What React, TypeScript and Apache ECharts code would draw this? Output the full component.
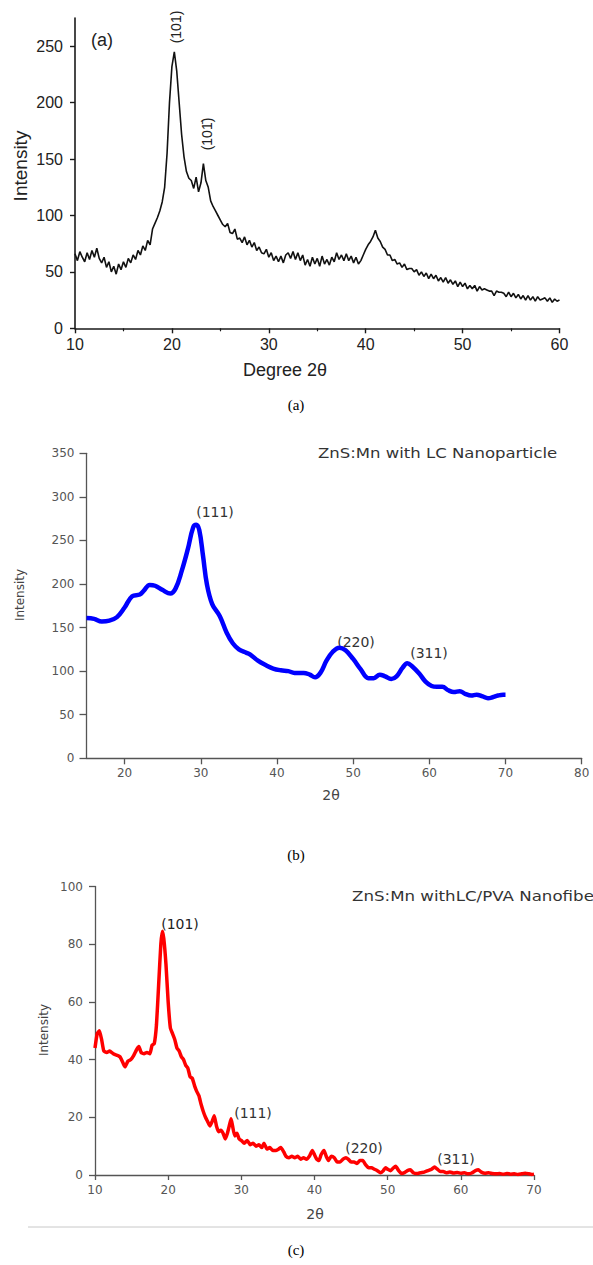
import React, { useEffect, useRef } from "react";
import * as echarts from "echarts";

// ---------- Panel (a): black noisy XRD ----------
const A_START = 10;
const A_STEP = 0.25;
const intensityA = [
  66, 60, 68, 63, 59, 67, 61, 69, 63, 71, 62, 58, 63, 54, 59, 50, 55, 48, 57, 52,
  59, 54, 62, 58, 65, 61, 69, 65, 73, 69, 78, 74, 88, 93, 98, 104, 112, 125, 155, 200,
  232, 245, 228, 200, 172, 152, 139, 133, 131, 124, 134, 121, 129, 146, 131, 125, 113, 108, 104, 100,
  96, 92, 90, 93, 85, 84, 88, 79, 80, 76, 81, 74, 78, 72, 76, 69, 72, 67, 66, 70,
  63, 67, 60, 64, 59, 64, 58, 65, 67, 62, 68, 61, 67, 60, 65, 56, 61, 55, 63, 57,
  62, 55, 64, 57, 61, 56, 63, 59, 67, 61, 65, 60, 66, 60, 64, 58, 63, 57, 60, 65,
  70, 74, 77, 81, 87, 80, 77, 72, 70, 65, 65, 60, 61, 57, 58, 54, 57, 52, 53, 53,
  50, 52, 47, 50, 46, 49, 44, 48, 44, 47, 42, 45, 41, 45, 40, 43, 39, 42, 37, 41,
  37, 40, 35, 38, 35, 38, 33, 37, 34, 35, 34, 33, 33, 29, 33, 32, 32, 31, 28, 32,
  28, 31, 27, 30, 26, 29, 25, 29, 25, 28, 24, 28, 25, 26, 27, 24, 27, 23, 26, 24,
  25,
];
const xTicksA = [10, 20, 30, 40, 50, 60];
const yTicksA = [0, 50, 100, 150, 200, 250];

// ---------- Panel (b): blue smooth ----------
const angleB = [
  15, 16, 17, 18, 19, 20, 21, 22, 22.5, 23.3, 24, 25, 26, 26.7, 27.5, 28.3, 29, 29.4, 29.8, 30.3,
  30.8, 31.5, 32.5, 33.4, 34.2, 35, 36, 36.5, 37.5, 38.5, 39.5, 40.5, 41.5, 42.3, 43.5, 44.3, 45, 45.7, 46.5, 47.3,
  48.2, 49, 50, 51, 52, 52.7, 53.5, 54.2, 55, 55.7, 56.5, 57.1, 57.8, 58.7, 59.5, 60.3, 61, 61.7, 62.5, 63.2,
  64, 64.7, 65.5, 66.2, 67, 67.7, 68.3, 69, 69.7, 70,
];
const intensityB = [
  161, 160, 157, 158, 162, 173, 186, 188, 192, 199, 198, 193, 189, 195, 215, 240, 265, 268, 262, 232,
  200, 177, 163, 144, 132, 125, 121, 119, 112, 107, 103, 101, 100, 98, 98, 96, 93, 98, 112, 122,
  127, 124, 114, 102, 92, 92, 96, 94, 91, 94, 104, 109, 105, 97, 88, 83, 82, 82, 78, 76,
  77, 74, 72, 73, 71, 69, 70, 72, 73, 73,
];
const xTicksB = [20, 30, 40, 50, 60, 70, 80];

// ---------- Panel (c): red ----------
const angleC = [
  10, 10.3, 10.6, 10.9, 11.2, 11.6, 12, 12.5, 13, 13.4, 13.8, 14.1, 14.5, 14.9, 15.3, 15.7, 16, 16.3, 16.7, 17.1,
  17.5, 17.8, 18.1, 18.4, 18.7, 19, 19.2, 19.4, 19.7, 20, 20.3, 20.6, 20.9, 21.2, 21.5, 21.8, 22.1, 22.4, 22.7, 23,
  23.3, 23.6, 23.9, 24.2, 24.5, 24.8, 25.1, 25.4, 25.7, 26, 26.3, 26.6, 26.9, 27.2, 27.5, 27.8, 28.1, 28.4, 28.6, 28.8,
  29.1, 29.4, 29.7, 30, 30.4, 30.8, 31.2, 31.6, 32, 32.4, 32.8, 33.1, 33.5, 33.9, 34.3, 34.7, 35.1, 35.4, 35.8, 36.1,
  36.5, 36.9, 37.3, 37.7, 38.1, 38.5, 38.9, 39.3, 39.7, 40, 40.3, 40.6, 40.9, 41.3, 41.6, 41.9, 42.3, 42.7, 43.1, 43.5,
  43.9, 44.3, 44.6, 45, 45.4, 45.8, 46.2, 46.6, 47, 47.4, 47.8, 48.2, 48.6, 49, 49.4, 49.7, 50, 50.4, 50.8, 51.1,
  51.5, 51.9, 52.3, 52.7, 53.1, 53.5, 54, 54.5, 55, 55.5, 56, 56.4, 56.8, 57.2, 57.6, 58, 58.5, 59, 59.5, 60,
  60.5, 61, 61.5, 62, 62.4, 62.8, 63.3, 63.8, 64.3, 64.8, 65.3, 65.8, 66.3, 66.8, 67.3, 67.8, 68.3, 68.8, 69.3, 69.7,
  70,
];
const intensityC = [
  44, 49, 50, 47, 43, 42.5, 43, 42, 41.5, 41, 39, 37.5, 39.5, 40, 41.5, 43.5, 44.5, 42.5, 42, 42.5,
  42, 45, 45.5, 52, 66, 80, 84.5, 82, 73, 60, 51, 49, 47, 44, 43, 41, 40, 38, 37, 34,
  33.5, 31, 29, 27.5, 24.5, 22, 20, 18.5, 17, 18.5, 20.5, 17, 15, 15.5, 14.5, 12.5, 14.5, 17.5, 19.5, 17,
  13.5, 14.5, 12.5, 12, 11, 12, 10.5, 11, 10, 10.5, 9.5, 11, 9, 9.5, 8.5, 8.5, 9, 9.5, 8, 6.5,
  6, 6.5, 6, 6.5, 5.5, 6, 5.5, 6.5, 8.5, 7, 5.5, 5, 7, 8.5, 6.5, 5, 6.5, 6, 4.5, 4.5,
  5.5, 6, 5.5, 4.5, 4.5, 4, 5, 5, 3.5, 2.5, 2.5, 2, 1.5, 0.8, 1.5, 2.5, 2, 1.5, 2.5, 3,
  1.5, 0.5, 0.8, 1.5, 1.8, 0.8, 0.5, 0.8, 1, 1.5, 2, 2.8, 2, 1.2, 1.2, 0.8, 1, 0.7, 0.9, 0.6,
  0.8, 0.4, 0.7, 1.5, 1.8, 1, 0.6, 0.8, 0.5, 0.4, 0.5, 0.3, 0.5, 0.3, 0.4, 0.2, 0.4, 0.6, 0.4, 0.2,
  0.3,
];

const SANS_A = "'Liberation Sans', Arial, sans-serif";
const SANS_B = "'DejaVu Sans', Verdana, sans-serif";
const SERIF = "'Liberation Serif', 'Times New Roman', serif";

function txt(
  text: string,
  x: number,
  y: number,
  size: number,
  opts: { font?: string; color?: string; align?: string; rot?: number; sx?: number } = {}
) {
  return {
    type: "text",
    x,
    y,
    rotation: opts.rot || 0,
    scaleX: opts.sx || 1,
    silent: true,
    style: {
      text,
      fill: opts.color || "#222",
      font: `${size}px ${opts.font || SANS_A}`,
      textAlign: opts.align || "center",
      textVerticalAlign: "middle",
    },
  };
}

export default function App() {
  const ref = useRef<HTMLDivElement>(null);
  useEffect(() => {
    if (!ref.current) return;
    const chart = echarts.init(ref.current, undefined, { renderer: "svg" });

    const dataA = intensityA.map((v, i) => [A_START + i * A_STEP, v]);
    const dataB = angleB.map((a, i) => [a, intensityB[i]]);
    const dataC = angleC.map((a, i) => [a, intensityC[i]]);

    const axisA = { lineStyle: { color: "#1a1a1a", width: 1.6 } };
    const axisBC = { lineStyle: { color: "#555", width: 1.3 } };

    chart.setOption({
      animation: false,
      backgroundColor: "#fff",
      grid: [
        { left: 75, top: 18.1, width: 484.5, height: 310.2 },
        { left: 86.5, top: 453.3, width: 495.2, height: 305 },
        { left: 95, top: 886.5, width: 439, height: 288.5 },
      ],
      xAxis: [
        {
          type: "value",
          gridIndex: 0,
          min: 10,
          max: 60,
          interval: 10,
          axisLine: { show: true, ...axisA },
          axisTick: { show: true, length: 5, lineStyle: { color: "#1a1a1a", width: 1.4 } },
          minorTick: { show: true, splitNumber: 2, length: 3, lineStyle: { color: "#1a1a1a", width: 1.2 } },
          axisLabel: {
            fontSize: 16,
            fontFamily: SANS_A,
            color: "#222",
            margin: 8,
            customValues: xTicksA,
          },
          splitLine: { show: false },
        },
        {
          type: "value",
          gridIndex: 1,
          min: 15,
          max: 80,
          axisLine: { show: true, ...axisBC },
          axisTick: { show: true, length: 6, customValues: xTicksB, lineStyle: { color: "#555", width: 1.3 } },
          axisLabel: {
            fontSize: 12,
            fontFamily: SANS_B,
            color: "#555",
            margin: 9,
            customValues: xTicksB,
          },
          splitLine: { show: false },
        },
        {
          type: "value",
          gridIndex: 2,
          min: 10,
          max: 70,
          interval: 10,
          axisLine: { show: true, ...axisBC },
          axisTick: { show: true, length: 5, lineStyle: { color: "#555", width: 1.3 } },
          axisLabel: { fontSize: 12, fontFamily: SANS_B, color: "#555", margin: 9 },
          splitLine: { show: false },
        },
      ],
      yAxis: [
        {
          type: "value",
          gridIndex: 0,
          min: 0,
          max: 275,
          axisLine: { show: true, ...axisA },
          axisTick: { show: true, length: 5, customValues: yTicksA, lineStyle: { color: "#1a1a1a", width: 1.4 } },
          axisLabel: {
            fontSize: 16,
            fontFamily: SANS_A,
            color: "#222",
            margin: 12,
            customValues: yTicksA,
          },
          splitLine: { show: false },
        },
        {
          type: "value",
          gridIndex: 1,
          min: 0,
          max: 350,
          interval: 50,
          axisLine: { show: true, ...axisBC },
          axisTick: { show: true, length: 7, lineStyle: { color: "#555", width: 1.3 } },
          axisLabel: { fontSize: 12, fontFamily: SANS_B, color: "#555", margin: 12 },
          splitLine: { show: false },
        },
        {
          type: "value",
          gridIndex: 2,
          min: 0,
          max: 100,
          interval: 20,
          axisLine: { show: true, ...axisBC },
          axisTick: { show: true, length: 6, lineStyle: { color: "#555", width: 1.3 } },
          axisLabel: { fontSize: 12, fontFamily: SANS_B, color: "#555", margin: 12 },
          splitLine: { show: false },
        },
      ],
      series: [
        {
          type: "line",
          xAxisIndex: 0,
          yAxisIndex: 0,
          data: dataA,
          showSymbol: false,
          lineStyle: { color: "#111", width: 1.6 },
          z: 3,
        },
        {
          type: "line",
          xAxisIndex: 1,
          yAxisIndex: 1,
          data: dataB,
          showSymbol: false,
          smooth: 0.4,
          lineStyle: { color: "#0000ff", width: 4.5 },
          z: 3,
        },
        {
          type: "line",
          xAxisIndex: 2,
          yAxisIndex: 2,
          data: dataC,
          showSymbol: false,
          smooth: 0.15,
          lineStyle: { color: "#ff0000", width: 3.5 },
          z: 3,
        },
      ],
      graphic: [
        // panel (a)
        txt("(a)", 102, 40, 18),
        txt("(101)", 176, 27, 14, { rot: Math.PI / 2 }),
        txt("(10" + "1\u0304" + ")", 207, 134, 14, { rot: Math.PI / 2 }),
        txt("Intensity", 20, 166, 19, { rot: Math.PI / 2 }),
        txt("Degree 2\u03b8", 285, 370, 18),
        txt("(a)", 296, 405, 15, { font: SERIF, color: "#000" }),
        // panel (b)
        txt("ZnS:Mn with LC Nanoparticle", 318, 453.5, 14, { font: SANS_B, color: "#333", align: "left", sx: 1.18 }),
        txt("(111)", 215, 512, 14, { font: SANS_B, color: "#333" }),
        txt("(220)", 356, 642, 14, { font: SANS_B, color: "#333" }),
        txt("(311)", 429, 653, 14, { font: SANS_B, color: "#333" }),
        txt("Intensity", 20, 595, 12, { font: SANS_B, color: "#444", rot: Math.PI / 2 }),
        txt("2\u03b8", 331, 795, 14, { font: SANS_B, color: "#444" }),
        txt("(b)", 296, 855, 15, { font: SERIF, color: "#000" }),
        // panel (c) — the reference shows this title cropped at the right edge
        txt("ZnS:Mn withLC/PVA Nanofibe", 352, 896, 14, { font: SANS_B, color: "#333", align: "left", sx: 1.19 }),
        txt("(101)", 180, 924, 14, { font: SANS_B, color: "#222" }),
        txt("(111)", 253, 1113, 14, { font: SANS_B, color: "#333" }),
        txt("(220)", 364, 1148, 14, { font: SANS_B, color: "#333" }),
        txt("(311)", 456, 1159, 14, { font: SANS_B, color: "#333" }),
        txt("Intensity", 44, 1030, 12, { font: SANS_B, color: "#444", rot: Math.PI / 2 }),
        txt("2\u03b8", 315, 1214, 14, { font: SANS_B, color: "#444" }),
        {
          type: "line",
          silent: true,
          shape: { x1: 28, y1: 1227, x2: 593, y2: 1227 },
          style: { stroke: "#c8c8c8", lineWidth: 1 },
        },
        txt("(c)", 296, 1250, 15, { font: SERIF, color: "#000" }),
      ],
    });
    return () => chart.dispose();
  }, []);
  return (
    <div
      ref={ref}
      style={{ position: "absolute", left: 0, top: 0, width: 593, height: 1265, background: "#fff" }}
    />
  );
}
